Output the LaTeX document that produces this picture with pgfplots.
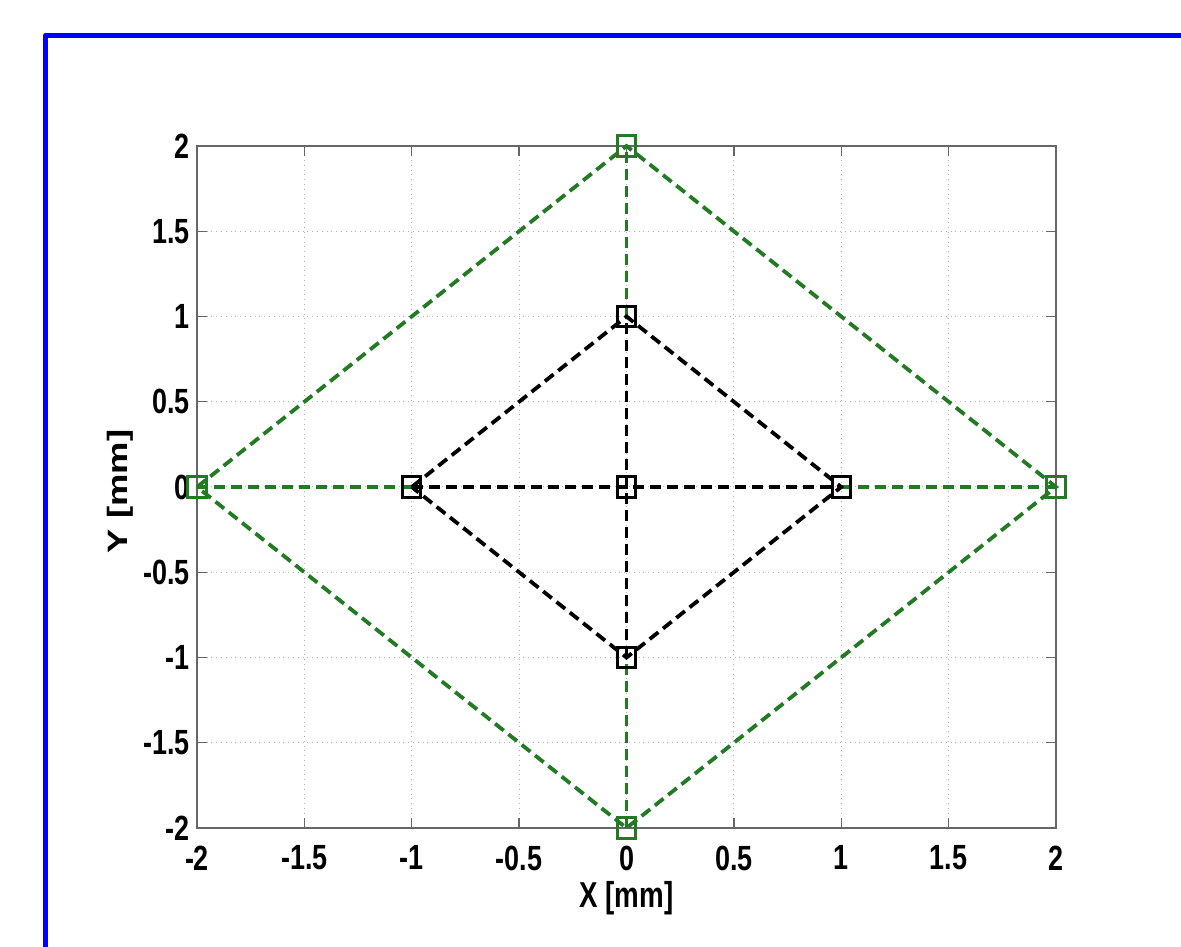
\documentclass[border=0pt]{standalone}
\usepackage{pgfplots}
\pgfplotsset{compat=1.18}
\usepackage{fontspec}
\setmainfont{Liberation Sans}
\newfontfamily\cond[FakeStretch=0.77]{Liberation Sans}
\newfontfamily\wide[FakeStretch=1.3]{Liberation Sans}
\definecolor{mgreen}{RGB}{34,122,34}
\begin{document}
\begin{tikzpicture}[x=1pt,y=1pt]
\path[use as bounding box] (0,0) rectangle (590.5,473);
\draw[blue, line width=2.6pt, line cap=round, line join=round] (22.75,-5) -- (22.75,455.25) -- (600,455.25);
\begin{axis}[
  at={(98.5pt,59pt)}, anchor=south west,
  width=429.5pt, height=341pt, scale only axis,
  xmin=-2, xmax=2, ymin=-2, ymax=2,
  xtick={-2,-1.5,...,2}, ytick={-2,-1.5,...,2},
  grid=major,
  major grid style={gray!60, dotted, line width=0.5pt},
  axis line style={gray!80!black, line width=0.7pt},
  tick style={gray!80!black, line width=0.7pt},
  tick align=inside, major tick length=5pt,
  xtick pos=both, ytick pos=both,
  ticklabel style={font=\cond\fontsize{17.5}{19}\selectfont\bfseries, inner sep=1pt},
  /pgf/number format/assume math mode=true,
  xticklabel style={yshift=-7.6pt},
  yticklabel style={xshift=-2.5pt},
  xlabel={X [mm]}, ylabel={Y [mm]},
  xlabel style={font=\cond\fontsize{18}{20}\selectfont\bfseries, at={(axis description cs:0.5,-0.1026)}, anchor=center},
  ylabel style={font=\wide\fontsize{14}{16}\selectfont\bfseries, at={(axis description cs:-0.0896,0.4934)}, anchor=center},
  clip=false,
]
\pgfplotsset{every axis plot/.append style={dash pattern=on 5.5pt off 3pt, line width=1.9pt, mark size=4.6pt, mark options={solid, line width=1.5pt, yscale=1.1}}}
\addplot[mgreen, mark=square]
  coordinates {(-2,0) (0,2) (2,0) (0,-2) (-2,0)};
\addplot[mgreen, mark=none]
  coordinates {(-2,0) (-1,0)};
\addplot[mgreen, mark=none]
  coordinates {(1,0) (2,0)};
\addplot[mgreen, mark=none]
  coordinates {(0,-2) (0,-1)};
\addplot[mgreen, mark=none]
  coordinates {(0,1) (0,2)};
\addplot[black, mark=square]
  coordinates {(-1,0) (0,1) (1,0) (0,-1) (-1,0)};
\addplot[black, mark=square]
  coordinates {(-1,0) (0,0) (1,0)};
\addplot[black, mark=square]
  coordinates {(0,-1) (0,0) (0,1)};
\end{axis}
\end{tikzpicture}
\end{document}
